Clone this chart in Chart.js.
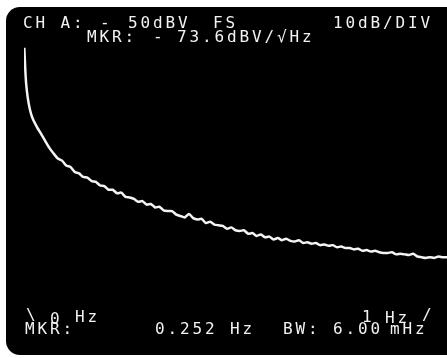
<!DOCTYPE html>
<html>
<head>
<meta charset="utf-8">
<script src="https://cdn.jsdelivr.net/npm/chart.js@4"></script>
<style>
  html, body { margin: 0; padding: 0; background: #fff; }
  #screen {
    position: absolute; left: 6px; top: 7px; width: 441px; height: 348px;
    background: #000; border-radius: 14px 0 0 14px;
  }
  #wrap { position: absolute; left: 0; top: 0; width: 447px; height: 358px; }
</style>
</head>
<body>
<div id="screen"></div>
<div id="wrap"><canvas id="SpecChart" width="447" height="358"></canvas></div>
<script>
// trace: frequency (Hz) and level (dBV/rtHz)
var freqHz = [0.0007, 0.003, 0.005, 0.009, 0.014, 0.02, 0.03, 0.04, 0.05, 0.06,
    0.07, 0.08, 0.09, 0.10, 0.11, 0.12, 0.13, 0.14, 0.15, 0.16,
    0.17, 0.18, 0.19, 0.20, 0.21, 0.22, 0.23, 0.24, 0.25, 0.26,
    0.27, 0.28, 0.29, 0.30, 0.31, 0.32, 0.33, 0.34, 0.35, 0.36,
    0.37, 0.38, 0.39, 0.40, 0.41, 0.42, 0.43, 0.44, 0.45, 0.46,
    0.47, 0.48, 0.49, 0.50, 0.51, 0.52, 0.53, 0.54, 0.55, 0.56,
    0.57, 0.58, 0.59, 0.60, 0.61, 0.62, 0.63, 0.64, 0.65, 0.66,
    0.67, 0.68, 0.69, 0.70, 0.71, 0.72, 0.73, 0.74, 0.75, 0.76,
    0.77, 0.78, 0.79, 0.80, 0.81, 0.82, 0.83, 0.84, 0.85, 0.86,
    0.87, 0.88, 0.89, 0.90, 0.91, 0.92, 0.93, 0.94, 0.95, 0.96,
    0.97, 0.98, 0.99, 1.00];
var levelDbv = [-52.5, -55.5, -57.5, -59.6, -61.2, -62.4, -63.6, -64.6, -65.6, -66.6,
    -67.4, -68.1, -68.4, -69.1, -69.3, -70.0, -70.2, -70.7, -70.8, -71.3,
    -71.4, -71.9, -72.0, -72.5, -72.5, -73.0, -72.9, -73.5, -73.6, -73.8,
    -74.2, -74.1, -74.6, -74.5, -75.0, -74.9, -75.4, -75.5, -75.5, -76.0,
    -76.2, -76.4, -75.9, -76.5, -76.7, -76.6, -77.2, -77.0, -77.4, -77.5,
    -77.6, -78.0, -77.8, -78.2, -78.3, -78.2, -78.7, -78.6, -79.0, -78.8,
    -79.2, -79.1, -79.5, -79.3, -79.6, -79.4, -79.7, -79.8, -79.6, -80.0,
    -79.9, -80.1, -80.0, -80.3, -80.2, -80.4, -80.3, -80.6, -80.5, -80.7,
    -80.7, -80.9, -80.8, -81.1, -81.0, -81.2, -81.1, -81.3, -81.4, -81.4,
    -81.3, -81.6, -81.5, -81.6, -81.7, -81.5, -81.9, -82.0, -82.1, -82.0,
    -82.1, -81.9, -82.0, -82.0];

// screen annotations: text, x, baseline y
var screenText = [
    ['CH A:', 23, 28], ['-', 100, 28], ['50dBV', 128, 28], ['FS', 213, 28], ['10dB/DIV', 333, 28],
    ['MKR:', 87, 42], ['-', 153, 42], ['73.6dBV/\u221AHz', 177, 42],
    ['\\', 26, 320], ['0', 50, 324], ['Hz', 75, 322],
    ['1', 362, 322], ['Hz', 385, 323], ['/', 422, 320],
    ['MKR:', 25, 334], ['0.252 Hz', 155, 334], ['BW:', 283, 334], ['6.00', 333, 334], ['mHz', 390, 334]
];

var screenTextPlugin = {
    id: 'screenText',
    afterDraw: function (chart) {
        var ctx = chart.ctx;
        ctx.save();
        ctx.fillStyle = '#f2f2f2';
        ctx.font = '16px "DejaVu Sans Mono"';
        ctx.textBaseline = 'alphabetic';
        ctx.textAlign = 'left';
        screenText.forEach(function (t) {
            // fixed character pitch like the instrument display
            for (var i = 0; i < t[0].length; i++) {
                ctx.fillText(t[0][i], t[1] + i * 12.5, t[2]);
            }
        });
        ctx.restore();
    }
};

var points = freqHz.map(function (f, i) { return { x: f, y: levelDbv[i] }; });

var SpecChart = new Chart(
    document.getElementById('SpecChart'), {
    type: 'line',
    data: {
        datasets: [{
            data: points,
            borderColor: '#f4f4f4',
            borderWidth: 2.5,
            pointRadius: 0,
            tension: 0.2
        }]
    },
    options: {
        responsive: false,
        animation: false,
        layout: { padding: { left: 24, right: 0, top: 30, bottom: 18 } },
        plugins: {
            legend: { display: false },
            tooltip: { enabled: false }
        },
        scales: {
            x: { type: 'linear', min: 0, max: 1, display: false },
            y: { min: -93.66, max: -50, display: false }
        }
    },
    plugins: [screenTextPlugin]
});
</script>
</body>
</html>
